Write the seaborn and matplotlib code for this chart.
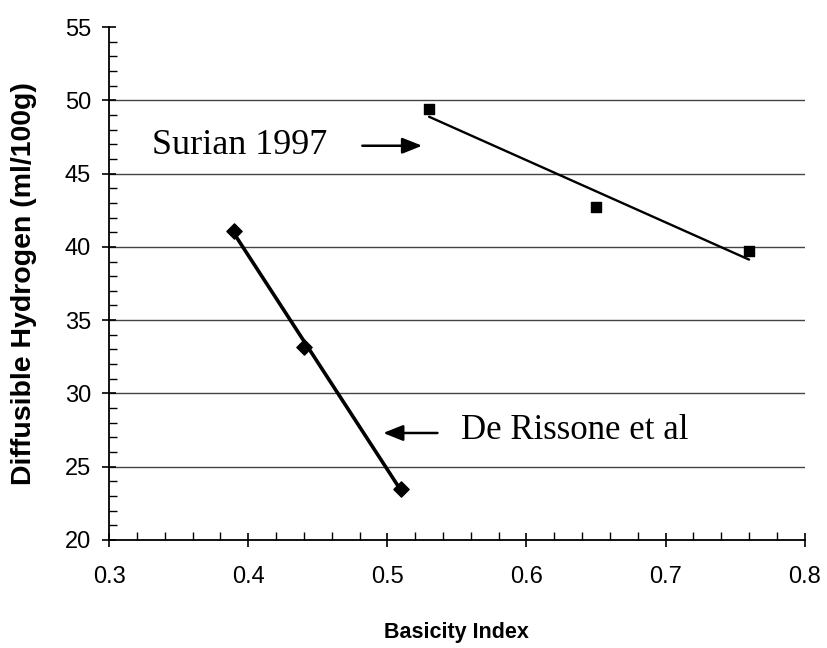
import matplotlib
matplotlib.use("Agg")
import matplotlib.pyplot as plt
import seaborn as sns
import numpy as np
import pandas as pd
from matplotlib.ticker import MultipleLocator, FormatStrFormatter

# Data
rissone_basicity = [0.39, 0.44, 0.51]
rissone_hydrogen = [41.1, 33.2, 23.5]
surian_basicity = [0.53, 0.65, 0.76]
surian_hydrogen = [49.4, 42.7, 39.7]

x_ticks = [0.3, 0.4, 0.5, 0.6, 0.7, 0.8]
y_ticks = [20, 25, 30, 35, 40, 45, 50, 55]
grid_levels = [25, 30, 35, 40, 45, 50]

sns.set_theme(style="white")
plt.rcParams['font.family'] = ['Liberation Sans', 'DejaVu Sans']

fig = plt.figure(figsize=(8.27, 6.48), dpi=100)
ax = fig.add_axes([0.132, 0.1667, 0.841, 0.7916])

for lv in grid_levels:
    ax.axhline(lv, color="#444444", lw=1.0, zorder=0)

df_r = pd.DataFrame({"x": rissone_basicity, "y": rissone_hydrogen})
df_s = pd.DataFrame({"x": surian_basicity, "y": surian_hydrogen})

sns.regplot(data=df_r, x="x", y="y", ax=ax, ci=None, color="black",
            marker="D", scatter_kws={"s": 60, "zorder": 3, "alpha": 1},
            line_kws={"lw": 2.6, "zorder": 2})
sns.regplot(data=df_s, x="x", y="y", ax=ax, ci=None, color="black",
            marker="s", scatter_kws={"s": 60, "zorder": 3, "alpha": 1},
            line_kws={"lw": 1.7, "zorder": 2})

ax.set_xlim(0.3, 0.8)
ax.set_ylim(20, 55)
ax.set_xticks(x_ticks)
ax.set_yticks(y_ticks)
ax.xaxis.set_major_formatter(FormatStrFormatter('%.1f'))
ax.xaxis.set_minor_locator(MultipleLocator(0.02))
ax.yaxis.set_minor_locator(MultipleLocator(1))

for side in ["top", "right"]:
    ax.spines[side].set_visible(False)
for side in ["left", "bottom"]:
    ax.spines[side].set_color("black")
    ax.spines[side].set_linewidth(1.3)

ax.tick_params(axis="both", which="major", direction="inout", length=10,
               width=1.2, color="black", labelsize=17, labelcolor="black",
               left=True, bottom=True)
ax.tick_params(axis="both", which="minor", direction="in", length=6,
               width=1.0, color="black", left=True, bottom=True)
ax.tick_params(axis="x", which="major", pad=14)
ax.tick_params(axis="y", which="major", pad=8)

ax.set_xlabel("Basicity Index", fontsize=15.5, fontweight="bold", labelpad=24,
              color="black")
ax.set_ylabel("Diffusible Hydrogen (ml/100g)", fontsize=20.5, fontweight="bold",
              labelpad=20, color="black")

arrow_style = dict(arrowstyle="-|>,head_length=1.0,head_width=0.4",
                   color="black", lw=1.8, shrinkA=0, shrinkB=0)
ax.annotate("", xy=(0.525, 46.9), xytext=(0.482, 46.9), arrowprops=arrow_style)
ax.text(0.331, 46.9, "Surian 1997", fontsize=26, family=["Liberation Serif"],
        va="center", ha="left", color="black")

ax.annotate("", xy=(0.497, 27.3), xytext=(0.536, 27.3), arrowprops=arrow_style)
ax.text(0.553, 27.5, "De Rissone et al", fontsize=25, family=["Liberation Serif"],
        va="center", ha="left", color="black")

fig.savefig("out.png", dpi=100)
